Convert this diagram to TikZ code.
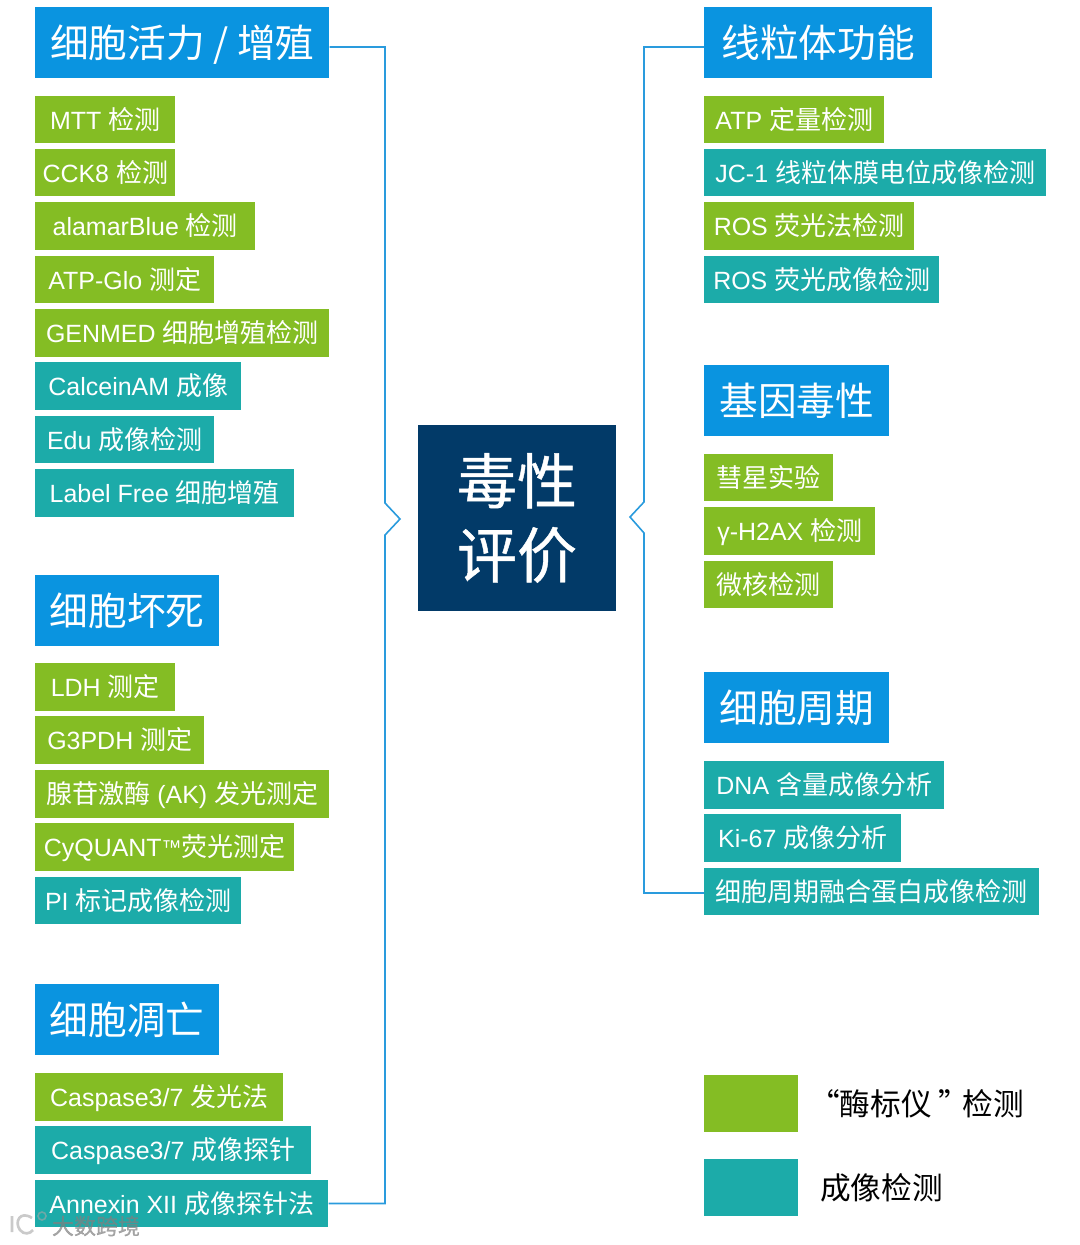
\documentclass[tikz,border=0pt]{standalone}
\usepackage{fontspec}
\setmainfont[Scale=0.96]{Liberation Sans}
\newfontfamily\cjk{Noto Sans CJK SC}
\newfontfamily\cjkb[FakeBold=0.7]{Noto Sans CJK SC}
\definecolor{bluehead}{HTML}{0A94E0}
\definecolor{greenbox}{HTML}{84BD24}
\definecolor{tealbox}{HTML}{1CABA9}
\definecolor{navybox}{HTML}{023A68}
\definecolor{linkblue}{HTML}{2A9BDD}
\tikzset{
	plate/.style={inner sep=0pt,anchor=west,text=white},
	boxw/.style={minimum width=#1*0.75pt},
	head/.style={plate,fill=bluehead,minimum height=53.2pt,text height=25.5pt,text depth=3.4pt,font=\fontsize{29}{30}\selectfont},
	grn/.style={plate,fill=greenbox,minimum height=35.6pt,text height=17.2pt,text depth=2.3pt,font=\fontsize{19.5}{22}\selectfont},
	teal/.style={plate,fill=tealbox,minimum height=35.6pt,text height=17.2pt,text depth=2.3pt,font=\fontsize{19.5}{22}\selectfont},
	link/.style={linkblue,line width=1.2pt},
	keybox/.style={inner sep=0pt,anchor=west,minimum width=70.5pt,minimum height=43pt},
	keytext/.style={anchor=west,inner sep=0pt,font=\fontsize{23}{25}\selectfont\cjk},
	faint/.style={gray!70,opacity=0.6}
}
\begin{document}
\begin{tikzpicture}[x=0.75pt,y=-0.75pt,line join=miter]
	\useasboundingbox (0,0) rectangle (1080,1245);
	% left column
	\node[head,boxw=294] (viab) at (35,42.5) {\cjk 细胞活力 / 增殖};
	\node[grn,boxw=140] (mtt) at (35,119.5) {MTT {\cjk 检测}};
	\node[grn,boxw=140] (cck) at (35,172.5) {CCK8 {\cjk 检测}};
	\node[grn,boxw=220] (alamar) at (35,226) {alamarBlue {\cjk 检测}};
	\node[grn,boxw=179] (atpglo) at (35,279.5) {ATP-Glo {\cjk 测定}};
	\node[grn,boxw=294] (genmed) at (35,333) {GENMED {\cjk 细胞增殖检测}};
	\node[teal,boxw=206] (calcein) at (35,386) {CalceinAM {\cjk 成像}};
	\node[teal,boxw=179] (edu) at (35,439.5) {Edu {\cjk 成像检测}};
	\node[teal,boxw=259] (labelfree) at (35,493) {Label Free {\cjk 细胞增殖}};
	\node[head,boxw=184] (necro) at (35,610.5) {\cjk 细胞坏死};
	\node[grn,boxw=140] (ldh) at (35,687) {LDH {\cjk 测定}};
	\node[grn,boxw=169] (gpdh) at (35,740) {G3PDH {\cjk 测定}};
	\node[grn,boxw=294] (ak) at (35,794) {{\cjk 腺苷激酶} (AK) {\cjk 发光测定}};
	\node[grn,boxw=259] (cyquant) at (35,847) {CyQUANT\raisebox{0.1em}{\scalebox{0.8}{™}}{\cjk 荧光测定}};
	\node[teal,boxw=206] (pi) at (35,900.5) {PI {\cjk 标记成像检测}};
	\node[head,boxw=184] (apop) at (35,1019.5) {\cjk 细胞凋亡};
	\node[grn,boxw=248] (caslum) at (35,1097) {Caspase3/7 {\cjk 发光法}};
	\node[teal,boxw=276] (casprobe) at (35,1150) {Caspase3/7 {\cjk 成像探针}};
	\node[teal,boxw=293] (annexin) at (35,1203.5) {Annexin XII {\cjk 成像探针法}};
	% right column
	\node[head,boxw=228] (mito) at (704,42.5) {\cjk 线粒体功能};
	\node[grn,boxw=180] (atp) at (704,119.5) {ATP {\cjk 定量检测}};
	\node[teal,boxw=342] (jc) at (704,172.5) {JC-1 {\cjk 线粒体膜电位成像检测}};
	\node[grn,boxw=210] (rosa) at (704,226) {ROS {\cjk 荧光法检测}};
	\node[teal,boxw=235] (rosb) at (704,279.5) {ROS {\cjk 荧光成像检测}};
	\node[head,boxw=185] (geno) at (704,400.5) {\cjk 基因毒性};
	\node[grn,boxw=129] (comet) at (704,477.5) {\cjk 彗星实验};
	\node[grn,boxw=171] (hax) at (704,531) {γ-H2AX {\cjk 检测}};
	\node[grn,boxw=129] (micro) at (704,584.5) {\cjk 微核检测};
	\node[head,boxw=185] (cycle) at (704,707.5) {\cjk 细胞周期};
	\node[teal,boxw=240] (dna) at (704,785) {DNA {\cjk 含量成像分析}};
	\node[teal,boxw=197] (ki) at (704,838) {Ki-67 {\cjk 成像分析}};
	\node[teal,boxw=335] (fusion) at (704,891.5) {\cjk 细胞周期融合蛋白成像检测};
	% centre
	\node[fill=navybox,text=white,inner sep=0pt,minimum width=148.5pt,minimum height=139.5pt,align=center,font=\fontsize{45}{55.5}\selectfont\cjkb] (tox) at (517,518) {毒性\\评价};
	% legend
	\node[keybox,fill=greenbox] (keyg) at (704,1103.5) {};
	\node[keybox,fill=tealbox] (keyt) at (704,1187.5) {};
	\node[keytext] (keygtxt) at (809,1104) {“酶标仪\kern5pt”\kern-5pt检测};
	\node[keytext] (keyttxt) at (820,1188) {成像检测};
	% brackets
	\coordinate (notchL) at (400,519);
	\coordinate (notchR) at (630,517);
	\draw[link] ([yshift=-3.375pt]viab.east) -- (385,47) -- (385,503) -- (notchL) -- (385,535) -- (385,1203.5) -- (annexin.east);
	\draw[link] ([yshift=-3.375pt]mito.west) -- (644,47) -- (644,502) -- (notchR) -- (644,533) -- (644,893) -- ([yshift=-1.125pt]fusion.west);
	% mark
	\node[inner sep=0pt,text=gray,opacity=0.7,font=\fontsize{16.5}{18}\selectfont\cjkb] (mark) at (96,1226) {大数跨境};
	\draw[faint,line width=2pt] (12,1216) -- (12,1232) (32,1218) .. controls (20,1210) and (14,1222) .. (20,1230) .. controls (24,1235) and (30,1234) .. (33,1230);
	\draw[faint,line width=1.2pt] (42,1216) circle (4);
\end{tikzpicture}
\end{document}
